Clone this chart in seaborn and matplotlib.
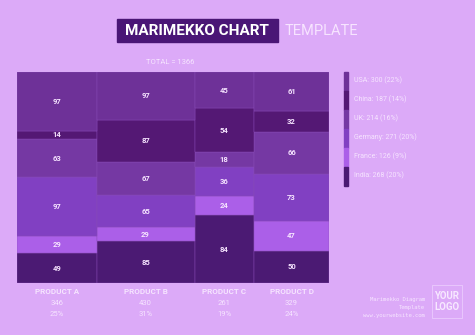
import matplotlib
matplotlib.use("Agg")
import matplotlib.pyplot as plt
import seaborn as sns
import numpy as np
from matplotlib.patches import Rectangle

products = ["PRODUCT A", "PRODUCT B", "PRODUCT C", "PRODUCT D"]
product_totals_text = ["346", "430", "261", "329"]
product_pct_text = ["25%", "31%", "19%", "24%"]
countries = ["USA", "China", "UK", "Germany", "France", "India"]
legend_labels = ["USA: 300 (22%)", "China: 187 (14%)", "UK: 214 (16%)",
                 "Germany: 271 (20%)", "France: 126 (9%)", "India: 268 (20%)"]
usa = [97, 97, 45, 61]
china = [14, 87, 54, 32]
uk = [63, 67, 18, 66]
germany = [97, 65, 36, 73]
france = [29, 29, 24, 47]
india = [49, 85, 84, 50]
colors = ["#6e3198", "#541874", "#7538a3", "#8140c2", "#ab5fe8", "#4b1a73"]

BG = "#dcaaf8"
TXT = "#f6e4ff"
sns.set_theme(style="white")
plt.rcParams['font.family'] = ['Roboto', 'DejaVu Sans']

fig = plt.figure(figsize=(4.75, 3.35), dpi=100)
fig.patch.set_facecolor(BG)
ax = fig.add_axes([17/475, 1-283/335, (329-17)/475, (283-72)/335])
ax.set_facecolor(BG)

series = [usa, china, uk, germany, france, india]
mat = np.array(series, dtype=float)  # rows countries (top->bottom), cols products
col_tot = mat.sum(axis=0)
widths = col_tot / col_tot.sum()
lefts = np.concatenate([[0], np.cumsum(widths)[:-1]])

bottom = np.zeros(len(products))
for i in range(len(countries) - 1, -1, -1):
    h = mat[i] / col_tot
    ax.bar(lefts, h, width=widths, bottom=bottom, align="edge",
           color=colors[i], edgecolor="#8a4cb8", linewidth=0.3)
    for j in range(len(products)):
        ax.text(lefts[j] + widths[j] / 2, bottom[j] + h[j] / 2, f"{int(mat[i, j])}",
                ha="center", va="center", color=TXT, fontsize=5.5,
                fontweight="bold")
    bottom += h

ax.set_xlim(0, 1)
ax.set_ylim(0, 1)
ax.set_xticks([])
ax.set_yticks([])
for s in ax.spines.values():
    s.set_visible(False)

# Title
fig.patches.append(Rectangle((117/475, 1-42/335), (278-117)/475, 23/335,
                             transform=fig.transFigure, color="#4a1676", zorder=0))
fig.text(197/475, 1-31/335, "MARIMEKKO CHART", ha="center", va="center",
         color="white", fontsize=11, fontweight="bold")
fig.text(285/475, 1-31/335, "TEMPLATE", ha="left", va="center",
         color="#f7e4ff", fontsize=10.5)
fig.text(170/475, 1-62/335, "TOTAL = 1366", ha="center", va="center",
         color=TXT, fontsize=5.5)

# Bottom labels
for j in range(len(products)):
    cx = 17/475 + (lefts[j] + widths[j] / 2) * (329-17)/475
    fig.text(cx, 1-292/335, products[j], ha="center", va="center",
             color=TXT, fontsize=5.8, fontweight="bold")
    fig.text(cx, 1-303/335, product_totals_text[j], ha="center", va="center",
             color=TXT, fontsize=5.5)
    fig.text(cx, 1-314/335, product_pct_text[j], ha="center", va="center",
             color=TXT, fontsize=5.5)

# Legend
for i, lab in enumerate(legend_labels):
    y0 = 72 + i * 19
    fig.patches.append(Rectangle((344/475, 1-(y0+19)/335), 4/475, 19/335,
                                 transform=fig.transFigure, color=colors[i]))
    fig.text(354/475, 1-(y0+8)/335, lab, ha="left", va="center",
             color=TXT, fontsize=5)

# Footer / logo
for k, line in enumerate(["Marimekko Diagram", "Template", "www.yourwebsite.com"]):
    fig.text(425/475, 1-(299 + 8*k)/335, line, ha="right", va="center",
             color=TXT, fontsize=4, family=['DejaVu Sans Mono'])
fig.patches.append(Rectangle((432/475, 1-318/335), 30/475, 33/335,
                             transform=fig.transFigure, fill=False,
                             edgecolor="#eed2ff", linewidth=0.5))
fig.text(447/475, 1-296/335, "YOUR", ha="center", va="center",
         color="#f7e8ff", fontsize=7, fontweight="bold")
fig.text(447/475, 1-307/335, "LOGO", ha="center", va="center",
         color="#f7e8ff", fontsize=7, fontweight="bold")

fig.savefig("out.png", dpi=100, facecolor=BG)
